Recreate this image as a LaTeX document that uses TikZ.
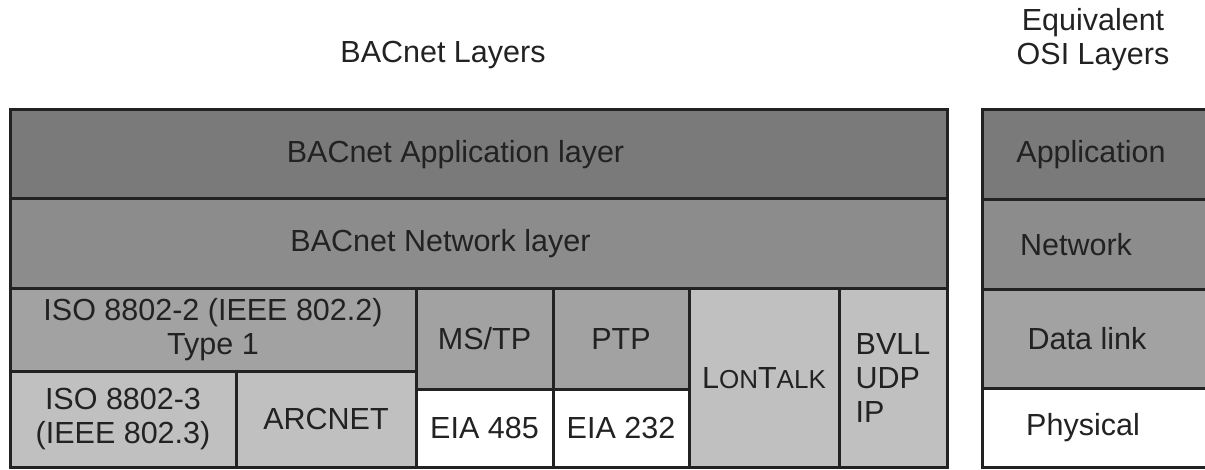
\documentclass[tikz,border=0pt]{standalone}
\usepackage{fontspec}
\setmainfont{Liberation Sans}
\definecolor{appgray}{HTML}{7A7A7A}
\definecolor{netgray}{HTML}{8C8C8C}
\definecolor{linkgray}{HTML}{A2A2A2}
\definecolor{physgray}{HTML}{C0C0C0}
\definecolor{inkgray}{HTML}{222222}
\begin{document}
\begin{tikzpicture}[
  x=1pt, y=-1pt,
  font=\fontsize{30.5}{34}\selectfont,
  cell/.style={draw=inkgray, line width=3pt, inner sep=0pt, text=inkgray, align=center},
  every label/.style={text=inkgray, inner sep=0pt}
]
  \useasboundingbox (0,0) rectangle (1205,470);
  \clip (0,0) rectangle (1205,470);

  % Headings
  \node[text=inkgray] (bactitle) at (443,55) {BACnet Layers};
  \node[text=inkgray, align=center] (osititle) at (1093,40) {Equivalent\\OSI Layers};

  % BACnet Application layer
  \node[cell, fill=appgray, minimum width=937pt, minimum height=89pt,
    label={[xshift=-23pt]center:BACnet Application layer}] (app) at (478.5,154.5) {};

  % BACnet Network layer
  \node[cell, fill=netgray, minimum width=937pt, minimum height=90pt,
    label={[xshift=-38pt]center:BACnet Network layer}] (net) at (478.5,244) {};

  % Data link and physical stacks
  \node[cell, fill=linkgray, minimum width=406pt, minimum height=82pt] (iso2) at (213,330) {ISO 8802-2 (IEEE 802.2)\\Type 1};
  \node[cell, fill=physgray, minimum width=226pt, minimum height=96pt] (iso3) at (123,419) {ISO 8802-3\\(IEEE 802.3)};
  \node[cell, fill=physgray, minimum width=180pt, minimum height=96pt] (arcnet) at (326,419) {ARCNET};
  \node[cell, fill=linkgray, minimum width=137pt, minimum height=100pt] (mstp) at (484.5,339) {MS/TP};
  \node[cell, fill=linkgray, minimum width=136pt, minimum height=100pt] (ptp) at (621,339) {PTP};
  \node[cell, fill=white, minimum width=137pt, minimum height=78pt] (eia485) at (484.5,428) {EIA 485};
  \node[cell, fill=white, minimum width=136pt, minimum height=78pt] (eia232) at (621,428) {EIA 232};
  \node[cell, fill=physgray, minimum width=150pt, minimum height=178pt] (lontalk) at (764,378)
    {L{\fontsize{26}{26}\selectfont ON}T{\fontsize{26}{26}\selectfont ALK}};
  \node[cell, fill=physgray, minimum width=108pt, minimum height=178pt,
    label={[align=left]center:BVLL\\UDP\\IP}] (bvll) at (893,378) {};

  % Equivalent OSI layers
  \node[cell, fill=appgray, minimum width=232pt, minimum height=90pt,
    label={[xshift=-7pt]center:Application}] (osiapp) at (1098,155) {};
  \node[cell, fill=netgray, minimum width=232pt, minimum height=90pt,
    label={[xshift=-22pt]center:Network}] (osinet) at (1098,245) {};
  \node[cell, fill=linkgray, minimum width=232pt, minimum height=98pt,
    label={[xshift=-11pt]center:Data link}] (osidl) at (1098,339) {};
  \node[cell, fill=white, minimum width=232pt, minimum height=79pt,
    label={[xshift=-15pt]center:Physical}] (osiphy) at (1098,427.5) {};
\end{tikzpicture}
\end{document}
